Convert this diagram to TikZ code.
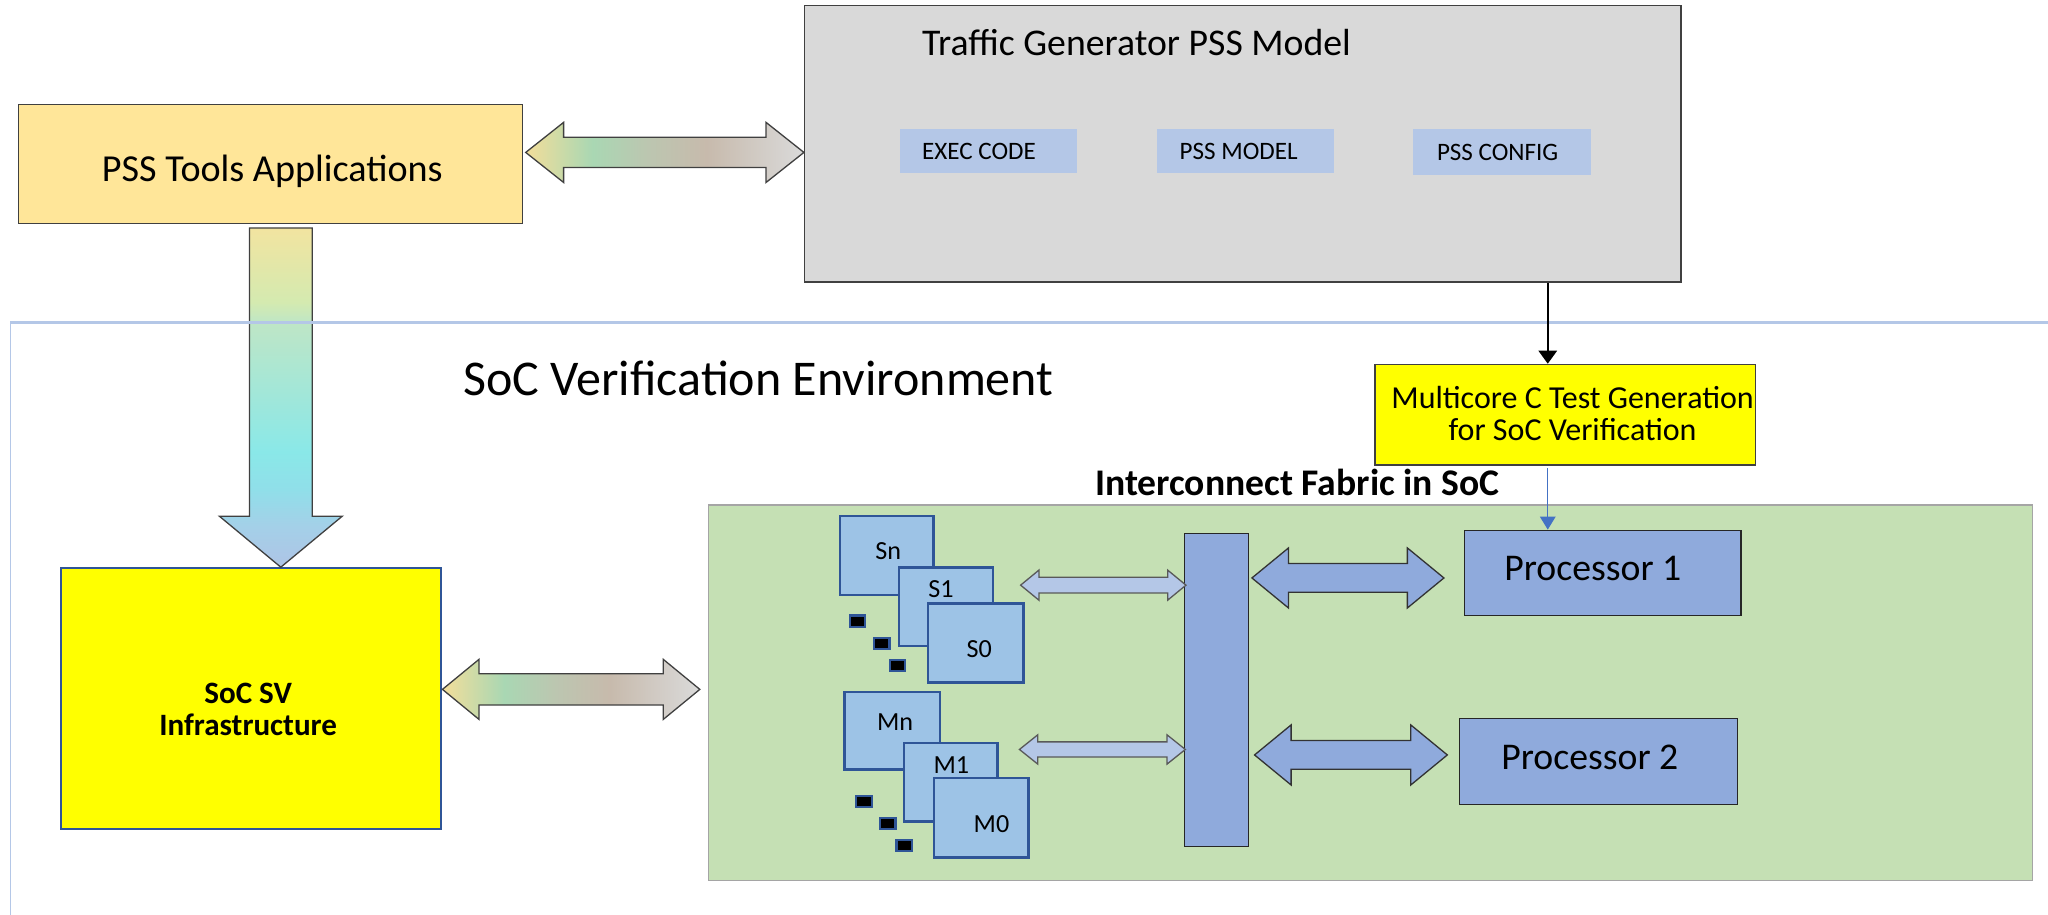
\documentclass[tikz,border=0pt]{standalone}
\usepackage{fontspec}
\setmainfont{Carlito}
\usetikzlibrary{calc,arrows.meta}

% palette
\definecolor{pssfill}{HTML}{FFE699}
\definecolor{tgfill}{HTML}{D9D9D9}
\definecolor{cellblue}{HTML}{B4C7E7}
\definecolor{hotyellow}{HTML}{FFFF00}
\definecolor{fabricgreen}{HTML}{C5E0B4}
\definecolor{fabricedge}{HTML}{A5A5A5}
\definecolor{stackfill}{HTML}{9DC3E6}
\definecolor{deepblue}{HTML}{2F5597}
\definecolor{procfill}{HTML}{8FAADC}
\definecolor{edgegray}{HTML}{404040}
\definecolor{accentblue}{HTML}{4472C4}
\definecolor{framecol}{HTML}{B4C7E7}

% gradient stops for the wide link arrows
\definecolor{gY}{HTML}{F3DE9A}
\definecolor{gG}{HTML}{A9D7B3}
\definecolor{gM}{HTML}{BCC6B0}
\definecolor{gT}{HTML}{C7BAAC}
\definecolor{gL}{HTML}{DADADA}
\pgfdeclarehorizontalshading{linkH}{100bp}{color(0bp)=(gY); color(25bp)=(gY); color(37bp)=(gG); color(47bp)=(gM); color(57.5bp)=(gT); color(75bp)=(gL); color(100bp)=(gL)}

% gradient stops for the downward arrow
\definecolor{vB}{HTML}{AEC4E6}
\definecolor{vBl}{HTML}{A4D0E8}
\definecolor{vC2}{HTML}{90DFE9}
\definecolor{vC}{HTML}{8AE8E8}
\definecolor{vG}{HTML}{BEE6C6}
\definecolor{vYG}{HTML}{D4EAB0}
\definecolor{vY}{HTML}{F2E4A0}
\pgfdeclareverticalshading{linkV}{100bp}{color(0bp)=(vB); color(25bp)=(vB); color(31bp)=(vBl); color(36.5bp)=(vC2); color(42bp)=(vC); color(61bp)=(vG); color(64bp)=(vYG); color(75bp)=(vY); color(100bp)=(vY)}

% horizontal double-headed block arrow between two points
% #1 style, #2 left tip, #3 right tip, #4 head half-height, #5 shaft half-height, #6 head length
\newcommand\hdblarrow[6]{%
  \path[#1] let \p1=(#2), \p2=(#3) in
    (\x1,\y1) -- (\x1+#6,\y1+#4) -- (\x1+#6,\y1+#5) -- (\x2-#6,\y1+#5)
    -- (\x2-#6,\y1+#4) -- (\x2,\y1) -- (\x2-#6,\y1-#4) -- (\x2-#6,\y1-#5)
    -- (\x1+#6,\y1-#5) -- (\x1+#6,\y1-#4) -- cycle;}

% downward block arrow: #2 top of shaft, #3 tip
\newcommand\vdownarrow[6]{%
  \path[#1] let \p1=(#2), \p2=(#3) in
    (\x1-#5,\y1) -- (\x1+#5,\y1) -- (\x1+#5,\y2+#6) -- (\x1+#4,\y2+#6)
    -- (\x1,\y2) -- (\x1-#4,\y2+#6) -- (\x1-#5,\y2+#6) -- cycle;}

\tikzset{
  box/.style={draw=edgegray, line width=1pt, inner sep=0pt},
  cell/.style={fill=cellblue, inner sep=0pt},
  stack/.style={draw=deepblue, line width=2pt, fill=stackfill, inner sep=0pt},
  dotbox/.style={draw=deepblue, line width=1.6pt, fill=black, inner sep=0pt, minimum width=12pt, minimum height=8.5pt},
  proc/.style={draw=black!85, line width=1pt, fill=procfill, inner sep=0pt},
  txt/.style={inner sep=0pt, text=black},
  gradlink/.style={shading=linkH, draw=edgegray, line width=1pt, line join=miter},
  gradlinkv/.style={shading=linkV, draw=edgegray, line width=1pt, line join=miter},
  proclink/.style={fill=procfill, draw=black!80, line width=1pt, line join=miter},
  slimlink/.style={fill=cellblue, draw=black!65, line width=1pt, line join=miter},
}

\begin{document}
\begin{tikzpicture}[x=1pt, y=-1pt]
\useasboundingbox (0,0) rectangle (1568,700.5);

% ---------- upper blocks ----------
\node[box, fill=pssfill, minimum width=386pt, minimum height=91pt] (pss) at (207,125.5) {};
\node[txt, anchor=base, font=\fontsize{29.2}{34}\selectfont] (psstxt) at (208.5,138.9) {PSS Tools Applications};

\node[box, fill=tgfill, minimum width=671pt, minimum height=212pt] (tg) at (951.5,110) {};
\node[txt, anchor=base west, font=\fontsize{28.9}{34}\selectfont] (tgtxt) at (705.8,42.8) {Traffic Generator PSS Model};

\node[cell, minimum width=136pt, minimum height=33.5pt] (exec) at (756.9,115.9) {};
\node[cell, minimum width=136pt, minimum height=34.2pt] (pssm) at (953.5,115.5) {};
\node[cell, minimum width=136pt, minimum height=34.7pt] (pssc) at (1150,116.5) {};
\node[txt, anchor=base west, font=\fontsize{19.2}{22}\selectfont] (exectxt) at (705.8,122.2) {EXEC CODE};
\node[txt, anchor=base west, font=\fontsize{19.2}{22}\selectfont] (pssmtxt) at (903,122.2) {PSS MODEL};
\node[txt, anchor=base west, font=\fontsize{19.2}{22}\selectfont] (pssctxt) at (1100,122.6) {PSS CONFIG};

% ---------- environment frame ----------
\node[box, fill=hotyellow, minimum width=291.5pt, minimum height=77pt] (mc) at (1198.5,317.5) {};
\node[txt, anchor=base, font=\fontsize{24.5}{24.5}\selectfont] (mctxt1) at (1204,312.6) {Multicore C Test Generation};
\node[txt, anchor=base, font=\fontsize{24.5}{24.5}\selectfont] (mctxt2) at (1204,337) {for SoC Verification};

\node[txt, anchor=base west, font=\fontsize{38.3}{44}\selectfont] (envtxt) at (354.5,303) {SoC Verification Environment};

\node[draw=deepblue, line width=1.5pt, fill=hotyellow, inner sep=0pt, minimum width=291pt, minimum height=200pt] (socsv) at (192.5,535) {};
\node[txt, anchor=base, font=\bfseries\fontsize{23.8}{24.5}\selectfont] (socsvtxt1) at (190,538.9) {SoC SV};
\node[txt, anchor=base, font=\bfseries\fontsize{23.8}{24.5}\selectfont] (socsvtxt2) at (190,563.4) {Infrastructure};

% ---------- interconnect fabric ----------
\node[draw=fabricedge, line width=1.2pt, fill=fabricgreen, inner sep=0pt, minimum width=1013.6pt, minimum height=287.3pt] (fab) at (1049.2,530.4) {};
\node[txt, anchor=base, font=\bfseries\fontsize{28.8}{32}\selectfont] (fabtxt) at (993.2,379.3) {Interconnect Fabric in SoC};

\node[proc, minimum width=49pt, minimum height=239.6pt] (bar) at (931.5,528.2) {};
\node[proc, minimum width=212pt, minimum height=65.5pt] (p1) at (1227,438.75) {};
\node[proc, minimum width=212.4pt, minimum height=66pt] (p2) at (1223.8,583) {};
\node[txt, anchor=base west, font=\fontsize{28.9}{34}\selectfont] (p1txt) at (1151.6,444.4) {Processor 1};
\node[txt, anchor=base west, font=\fontsize{28.9}{34}\selectfont] (p2txt) at (1149.3,588.9) {Processor 2};

% slave stack
\node[stack, minimum width=71.7pt, minimum height=60.5pt] (sn) at (679.05,425.35) {};
\node[stack, minimum width=72pt, minimum height=60pt] (s1) at (724.3,464.7) {};
\node[stack, minimum width=73.2pt, minimum height=60.6pt] (s0) at (747.1,492.3) {};
\node[txt, anchor=base, font=\fontsize{20}{24}\selectfont] (sntxt) at (680,428) {Sn};
\node[txt, anchor=base, font=\fontsize{20}{24}\selectfont] (s1txt) at (720.5,457.3) {S1};
\node[txt, anchor=base, font=\fontsize{20}{24}\selectfont] (s0txt) at (749.8,503.3) {S0};
\node[dotbox] (sd1) at (656.6,475.5) {};
\node[dotbox] (sd2) at (675,492.7) {};
\node[dotbox] (sd3) at (687.2,509.3) {};

% master stack
\node[stack, minimum width=73.2pt, minimum height=59.6pt] (mn) at (683,559.5) {};
\node[stack, minimum width=71.8pt, minimum height=60.1pt] (m1) at (727.9,598.85) {};
\node[stack, minimum width=72pt, minimum height=60.8pt] (m0) at (751.2,626.1) {};
\node[txt, anchor=base, font=\fontsize{20}{24}\selectfont] (mntxt) at (685.3,559.5) {Mn};
\node[txt, anchor=base, font=\fontsize{20}{24}\selectfont] (m1txt) at (728.4,592.3) {M1};
\node[txt, anchor=base, font=\fontsize{20}{24}\selectfont] (m0txt) at (759.1,637) {M0};
\node[dotbox] (md1) at (661.6,613.5) {};
\node[dotbox] (md2) at (679.6,630.4) {};
\node[dotbox] (md3) at (692.4,647.4) {};

% ---------- connectors ----------
% tool <-> model
\coordinate (la) at ([xshift=2pt,yshift=8.8pt]pss.east);
\coordinate (ra) at (la -| tg.west);
\hdblarrow{gradlink}{la}{ra}{23pt}{11.6pt}{29pt}

% tool -> infrastructure
\coordinate (vtop) at ([xshift=8pt,yshift=-3pt]pss.south);
\coordinate (vtip) at (vtop |- socsv.north);
\vdownarrow{gradlinkv}{vtop}{vtip}{47pt}{24pt}{39pt}

% infrastructure <-> fabric
\coordinate (lm) at ([yshift=7.2pt]socsv.east);
\coordinate (rm) at ([xshift=-6pt]lm -| fab.west);
\hdblarrow{gradlink}{lm}{rm}{23pt}{12pt}{28pt}

% stacks <-> bus
\coordinate (sl) at (781.4,448);
\coordinate (sr) at ([xshift=1.5pt]sl -| bar.west);
\hdblarrow{slimlink}{sl}{sr}{11.5pt}{6pt}{14pt}
\coordinate (ml) at (780.5,573.8);
\coordinate (mr) at ([xshift=1pt]ml -| bar.west);
\hdblarrow{slimlink}{ml}{mr}{11.2pt}{5.8pt}{14pt}

% bus <-> processors
\coordinate (pl1) at ([xshift=2pt]bar.east |- 0,442.5);
\coordinate (pr1) at ([xshift=-15pt]pl1 -| p1.west);
\hdblarrow{proclink}{pl1}{pr1}{23pt}{11pt}{28pt}
\coordinate (pl2) at ([xshift=4pt]bar.east |- 0,578);
\coordinate (pr2) at ([xshift=-9pt]pl2 -| p2.west);
\hdblarrow{proclink}{pl2}{pr2}{23pt}{11pt}{28pt}

% environment frame (drawn over the downward arrow)
\draw[framecol, line width=2pt] (1568,247) -- (8,247);
\draw[framecol, line width=1.1pt] (8,247) -- (8,700.5);

% model -> test generation -> processor
\coordinate (tap) at (1185,0);
\draw[black, line width=1.6pt, -{Triangle[length=10pt,width=14pt]}] (tap |- tg.south) -- (tap |- mc.north);
\draw[accentblue, line width=0.9pt, -{Triangle[length=10pt,width=12pt]}] ([yshift=-2pt]tap |- mc.south) -- (tap |- p1.north);

\end{tikzpicture}
\end{document}
